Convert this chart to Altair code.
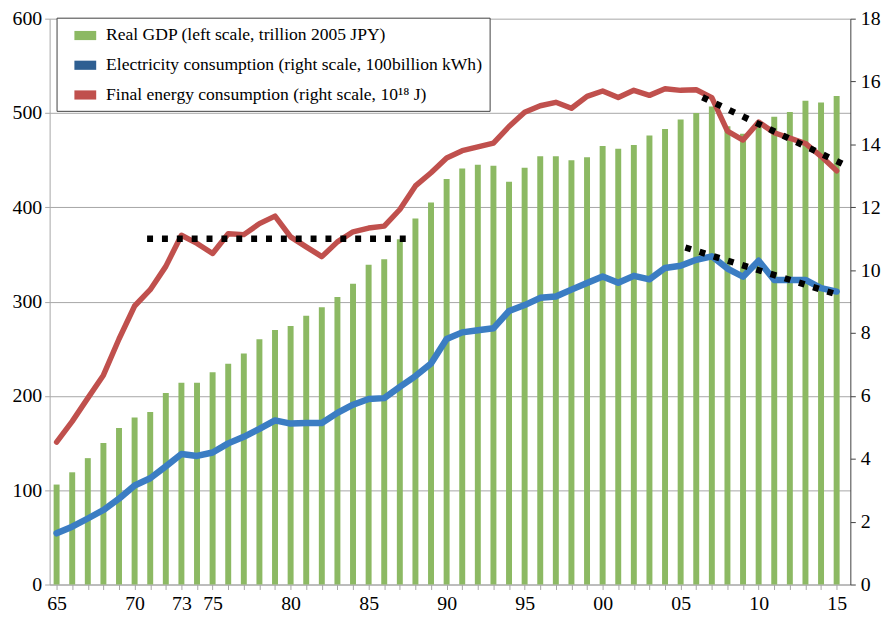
import altair as alt
import pandas as pd

# ---------------- data ----------------
years = list(range(1965, 2016))

gdp = [106, 119, 134, 150, 166, 177, 183, 203, 214, 214,
       225, 234, 245, 260, 270, 274, 285, 294, 305, 319,
       339, 345, 366, 388, 405, 430, 441, 445, 444, 427,
       442, 454, 454, 450, 453, 465, 462, 466, 476, 483,
       493, 500, 507, 486, 478, 491, 496, 501, 513, 511,
       518]

elec = [1.63, 1.84, 2.10, 2.37, 2.73, 3.15, 3.38, 3.76, 4.15, 4.09,
        4.20, 4.49, 4.70, 4.95, 5.22, 5.12, 5.14, 5.14, 5.46, 5.72,
        5.90, 5.93, 6.29, 6.63, 7.03, 7.81, 8.02, 8.09, 8.15, 8.70,
        8.89, 9.12, 9.16, 9.38, 9.59, 9.80, 9.60, 9.82, 9.71, 10.07,
        10.14, 10.33, 10.44, 10.05, 9.79, 10.30, 9.69, 9.69, 9.69, 9.43,
        9.32]

energy = [4.53, 5.19, 5.93, 6.66, 7.81, 8.86, 9.38, 10.12, 11.11, 10.85,
          10.53, 11.16, 11.13, 11.48, 11.72, 11.06, 10.74, 10.43, 10.90, 11.22,
          11.34, 11.40, 11.93, 12.68, 13.10, 13.57, 13.80, 13.92, 14.04, 14.57,
          15.02, 15.23, 15.34, 15.15, 15.53, 15.70, 15.49, 15.72, 15.56, 15.77,
          15.72, 15.74, 15.49, 14.42, 14.14, 14.71, 14.37, 14.20, 14.03, 13.62,
          13.16]

trend_group = ["flat", "flat", "energy", "energy", "elec", "elec"]
trend_year = [1970.8, 1987.6, 2006.4, 2015.5, 2005.3, 2015.2]
trend_value = [11.0, 11.0, 15.5, 13.35, 10.72, 9.2]

label_years = [1965, 1970, 1973, 1975, 1980, 1985, 1990, 1995, 2000, 2005, 2010, 2015]
label_text = ["65", "70", "73", "75", "80", "85", "90", "95", "00", "05", "10", "15"]

left_ticks = [0, 100, 200, 300, 400, 500, 600]
right_ticks = [0, 2, 4, 6, 8, 10, 12, 14, 16, 18]

GDP_NAME = "Real GDP (left scale, trillion 2005 JPY)"
ELEC_NAME = "Electricity consumption (right scale, 100billion kWh)"
ENERGY_NAME = "Final energy consumption (right scale, 10\u00b9\u2078 J)"

GREEN = "#8CB963"
BLUE = "#3B7DC3"
BLUE_LEGEND = "#2E5F92"
RED = "#C0504D"
GRID = "#A6A6A6"
FONT = "Liberation Serif"

bars_df = pd.DataFrame({"year": years, "value": gdp, "series": GDP_NAME})
elec_df = pd.DataFrame({"year": years, "value": elec})
energy_df = pd.DataFrame({"year": years, "value": energy})
trend_df = pd.DataFrame({"group": trend_group, "year": trend_year, "value": trend_value})

# ---------------- scales & axes ----------------
years_js = "[" + ",".join(str(y) for y in label_years) + "]"
texts_js = "[" + ",".join("'" + t + "'" for t in label_text) + "]"
label_expr = (f"indexof({years_js}, datum.value) >= 0 ? "
              f"{texts_js}[indexof({years_js}, datum.value)] : ''")

x_scale = alt.Scale(domain=[1964.87, 2015.56], nice=False, zero=False)
x_axis = alt.Axis(values=years, labelExpr=label_expr, title=None, grid=False,
                  tickSize=5, tickColor=GRID, domainColor=GRID,
                  labelOverlap=False, labelFlush=False, labelBound=False,
                  labelPadding=4, labelAngle=0,
                  labelFont=FONT, labelFontSize=20, labelColor="black")
X = alt.X("year:Q", scale=x_scale, axis=x_axis)

left_axis = alt.Axis(orient="left", values=left_ticks, title=None, grid=True,
                     gridColor=GRID, domainColor=GRID, tickColor=GRID,
                     tickSize=5, labelPadding=3,
                     labelFont=FONT, labelFontSize=20, labelColor="black")
right_scale = alt.Scale(domain=[0, 18], nice=False)
right_axis = alt.Axis(orient="right", values=right_ticks, title=None, grid=False,
                      domainColor="#404040", tickColor="#404040",
                      tickSize=5, labelPadding=5,
                      labelFont=FONT, labelFontSize=20, labelColor="black")
Y_right = alt.Y("value:Q", scale=right_scale, axis=right_axis)

legend = alt.Legend(
    orient="none", legendX=7, legendY=-1, title=None,
    symbolType="M-1,-0.42L1,-0.42L1,0.42L-1,0.42Z", symbolSize=484,
    symbolStrokeWidth=0, symbolOffset=11, labelOffset=10,
    labelFont=FONT, labelFontSize=17.7, labelColor="black", labelLimit=600,
    rowPadding=10, padding=7, fillColor="white", strokeColor="#404040",
)

bars = alt.Chart(bars_df).mark_bar(size=6).encode(
    x=X,
    y=alt.Y("value:Q", scale=alt.Scale(domain=[0, 600], nice=False), axis=left_axis),
    color=alt.Color("series:N",
                    scale=alt.Scale(domain=[GDP_NAME, ELEC_NAME, ENERGY_NAME],
                                    range=[GREEN, BLUE_LEGEND, RED]),
                    legend=legend),
)

elec_line = alt.Chart(elec_df).mark_line(
    color=BLUE, strokeWidth=6.5, strokeJoin="round", strokeCap="round"
).encode(x=X, y=Y_right)

energy_line = alt.Chart(energy_df).mark_line(
    color=RED, strokeWidth=5.5, strokeJoin="round", strokeCap="round"
).encode(x=X, y=Y_right)

trend = alt.Chart(trend_df).mark_line(
    color="black", strokeWidth=6.5, strokeDash=[6, 9], strokeCap="butt"
).encode(x=X, y=Y_right, detail="group:N")

right = alt.layer(elec_line, energy_line, trend)

chart = alt.layer(bars, right).resolve_scale(y="independent").properties(
    width=808, height=571,
    autosize=alt.AutoSizeParams(type="none"),
    padding={"left": 42, "top": 8, "right": 38, "bottom": 30},
).configure(font=FONT).configure_view(stroke=None).configure_axis(
    labelFont=FONT, labelFontSize=20, labelColor="black"
)

chart.save("out.html", embed_options={"renderer": "svg", "actions": False})
